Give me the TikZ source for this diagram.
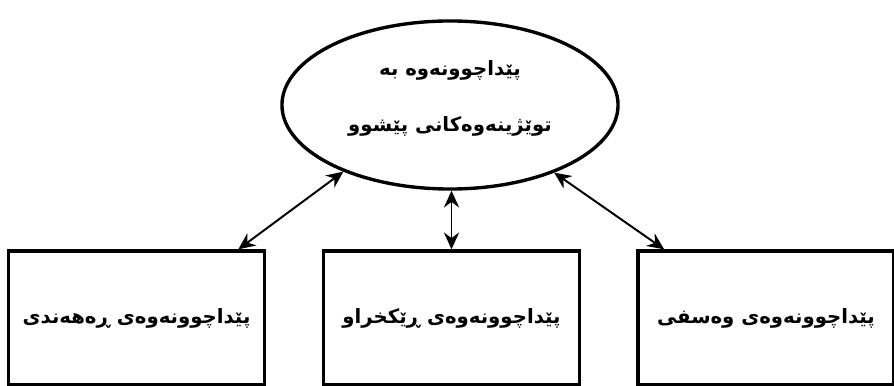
\documentclass[tikz,border=0pt]{standalone}
\usepackage{fontspec}
\usepackage{tikz}
\usetikzlibrary{shapes.geometric,arrows.meta}
\TeXXeTstate=1
\newfontfamily\arabicfont[Script=Arabic]{DejaVu Sans}
\tikzset{
	x=0.025cm, y=-0.025cm,
	reviewbox/.style={draw, line width=2.4pt, rectangle, minimum width=6.4cm, minimum height=3.35cm, font=\arabicfont\bfseries\fontsize{14}{17}\selectfont},
	reviewell/.style={draw, line width=2.4pt, ellipse, minimum width=8.4cm, minimum height=4.2cm, align=center, text depth=0.45cm, font=\arabicfont\bfseries\fontsize{14}{17}\selectfont},
	link/.style={line width=1.4pt, {Stealth[length=0.42cm,width=0.38cm,inset=0.14cm]}-{Stealth[length=0.42cm,width=0.38cm,inset=0.14cm]}}
}

\begin{document}
\begin{tikzpicture}
			%%%%% START %%%%%
			\useasboundingbox (0, 0) rectangle (894, 386);
			
			\node[reviewell] (ell) at (450, 105) {\beginR پێداچوونەوە بە\endR\\[0.8cm]\beginR توێژینەوەکانی پێشوو\endR};
			
			\node[reviewbox] (lbox) at (136.5, 318) {\beginR پێداچوونەوەی ڕەهەندی\endR};
			\node[reviewbox] (mbox) at (451.5, 318) {\beginR پێداچوونەوەی ڕێکخراو\endR};
			\node[reviewbox] (rbox) at (766, 318) {\beginR پێداچوونەوەی وەسفی\endR};
			
			\draw[link] (lbox.34) -- (ell.212);
			\draw[link] (mbox.north) -- (mbox.north |- ell.south);
			\draw[link] (rbox.146) -- (ell.327);
			%%%%% END %%%%%
		\end{tikzpicture}
\end{document}
